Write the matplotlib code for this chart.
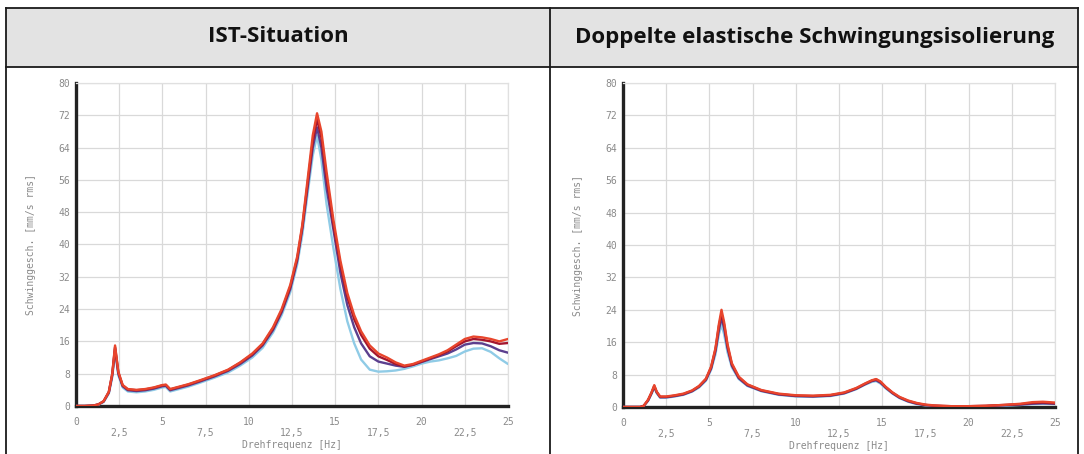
import numpy as np
import matplotlib
matplotlib.use("Agg")
import matplotlib.pyplot as plt
from matplotlib.patches import Rectangle
from matplotlib.lines import Line2D

# ---- data: IST-Situation ----
f_ist = [0, 0.5, 1.0, 1.3, 1.6, 1.9, 2.1, 2.26, 2.45, 2.7, 3.0, 3.5, 4.0, 4.5, 5.0, 5.2,
         5.45, 5.8, 6.5, 7.2, 8.0, 8.8, 9.5, 10.2, 10.8, 11.4, 11.9, 12.4, 12.8, 13.1,
         13.4, 13.7, 13.95, 14.2, 14.5, 14.9, 15.3, 15.7, 16.1, 16.5, 17.0, 17.5, 18.0,
         18.5, 19.0, 19.5, 20.0, 20.5, 21.0, 21.5, 22.0, 22.5, 23.0, 23.5, 24.0, 24.5, 25.0]
ist_red = [0, 0, 0.1, 0.4, 1.2, 3.5, 8.0, 15.0, 8.5, 5.2, 4.2, 4.0, 4.2, 4.6, 5.2, 5.3,
           4.2, 4.6, 5.4, 6.4, 7.6, 9.0, 10.8, 13.0, 15.5, 19.5, 24.0, 30.0, 37.0, 45.0,
           56.0, 67.0, 72.5, 68.0, 58.0, 46.0, 36.0, 28.0, 22.5, 18.5, 15.0, 13.0, 12.0,
           10.8, 10.0, 10.4, 11.2, 12.0, 12.8, 13.8, 15.2, 16.6, 17.2, 17.0, 16.6, 16.0, 16.6]
ist_darkred = [0, 0, 0.1, 0.4, 1.2, 3.5, 8.0, 14.6, 8.3, 5.1, 4.1, 3.9, 4.1, 4.5, 5.1, 5.2,
               4.1, 4.5, 5.3, 6.3, 7.5, 8.9, 10.7, 12.8, 15.3, 19.2, 23.6, 29.5, 36.5, 44.5,
               55.0, 65.5, 71.0, 66.5, 56.5, 44.8, 35.0, 27.0, 21.5, 17.6, 14.2, 12.3, 11.4,
               10.4, 9.8, 10.2, 11.0, 11.8, 12.6, 13.5, 14.8, 16.0, 16.6, 16.4, 16.0, 15.4, 15.6]
ist_purple = [0, 0, 0.1, 0.4, 1.1, 3.3, 7.6, 14.2, 8.0, 4.9, 3.9, 3.7, 3.9, 4.3, 4.9, 5.0,
              3.9, 4.3, 5.1, 6.1, 7.3, 8.7, 10.4, 12.5, 15.0, 18.8, 23.2, 29.0, 36.0, 44.0,
              54.0, 64.0, 69.0, 64.0, 54.0, 43.6, 33.0, 25.0, 19.5, 15.5, 12.3, 11.0, 10.5,
              10.0, 9.7, 10.2, 10.9, 11.6, 12.3, 13.0, 14.0, 15.2, 15.6, 15.5, 14.8, 13.8, 13.2]
ist_lightblue = [0, 0, 0.1, 0.3, 1.0, 3.1, 7.2, 13.6, 7.6, 4.6, 3.6, 3.4, 3.6, 4.0, 4.6, 4.7,
                 3.6, 4.0, 4.8, 5.8, 7.0, 8.3, 10.0, 12.0, 14.4, 18.2, 22.5, 28.2, 35.0, 42.5,
                 52.5, 62.0, 67.0, 61.0, 50.0, 39.0, 29.0, 21.0, 15.5, 11.5, 9.0, 8.5, 8.6,
                 8.8, 9.2, 9.8, 10.5, 11.0, 11.3, 11.8, 12.4, 13.5, 14.2, 14.3, 13.4, 11.8, 10.4]

# ---- data: Doppelte elastische Schwingungsisolierung ----
f_dop = [0, 0.5, 1.0, 1.2, 1.45, 1.65, 1.81, 1.95, 2.15, 2.5, 3.0, 3.5, 4.0, 4.4, 4.8, 5.1,
         5.35, 5.55, 5.7, 5.85, 6.05, 6.3, 6.7, 7.2, 8.0, 9.0, 10.0, 11.0, 12.0, 12.8, 13.5,
         14.0, 14.4, 14.65, 14.9, 15.2, 15.6, 16.0, 16.5, 17.0, 17.5, 18.0, 19.0, 20.0, 21.0,
         22.0, 23.0, 23.7, 24.3, 25.0]
dop_red = [0, 0, 0, 0.3, 1.8, 3.6, 5.4, 3.8, 2.6, 2.6, 2.9, 3.3, 4.1, 5.2, 7.0, 10.0,
           14.5, 20.5, 24.0, 21.0, 15.5, 10.8, 7.5, 5.6, 4.2, 3.3, 2.9, 2.8, 3.0, 3.6, 4.7,
           5.8, 6.6, 6.9, 6.3, 5.0, 3.6, 2.5, 1.6, 1.0, 0.6, 0.4, 0.2, 0.2, 0.3,
           0.5, 0.8, 1.2, 1.3, 1.1]
dop_darkred = [0, 0, 0, 0.3, 1.7, 3.5, 5.2, 3.7, 2.5, 2.5, 2.8, 3.2, 4.0, 5.1, 6.9, 9.8,
               14.2, 20.0, 23.0, 20.4, 15.0, 10.5, 7.3, 5.5, 4.1, 3.2, 2.8, 2.7, 2.9, 3.5, 4.6,
               5.7, 6.5, 6.8, 6.2, 4.9, 3.5, 2.4, 1.5, 0.9, 0.5, 0.3, 0.2, 0.2, 0.3,
               0.5, 0.7, 1.0, 1.1, 0.9]
dop_purple = [0, 0, 0, 0.3, 1.6, 3.4, 5.0, 3.6, 2.4, 2.4, 2.7, 3.1, 3.9, 5.0, 6.7, 9.5,
              13.8, 19.0, 22.0, 19.5, 14.5, 10.2, 7.1, 5.3, 4.0, 3.1, 2.7, 2.6, 2.8, 3.4, 4.5,
              5.6, 6.4, 6.6, 6.0, 4.8, 3.4, 2.3, 1.4, 0.8, 0.5, 0.3, 0.1, 0.1, 0.2,
              0.4, 0.6, 0.8, 0.9, 0.8]
dop_lightblue = [0, 0, 0, 0.2, 1.5, 3.2, 4.8, 3.4, 2.3, 2.3, 2.6, 3.0, 3.8, 4.8, 6.5, 9.2,
                 13.0, 18.0, 20.3, 18.0, 13.5, 9.8, 6.9, 5.2, 3.9, 3.0, 2.6, 2.5, 2.7, 3.3, 4.4,
                 5.5, 6.2, 6.4, 5.8, 4.6, 3.3, 2.2, 1.3, 0.7, 0.4, 0.2, 0.1, 0.1, 0.2,
                 0.3, 0.5, 0.7, 0.8, 0.7]

titles = ["IST-Situation", "Doppelte elastische Schwingungsisolierung"]
xticks = [0, 2.5, 5, 7.5, 10, 12.5, 15, 17.5, 20, 22.5, 25]
yticks = [0, 8, 16, 24, 32, 40, 48, 56, 64, 72, 80]

colors = ["#8fcbe6", "#5b3f8e", "#a3162e", "#e8452c"]

W, H = 1084, 454
fig = plt.figure(figsize=(W / 100, H / 100), dpi=100)


def fx(px):
    return px / W


def fy(py):
    return 1 - py / H


# table frame
fig.add_artist(Rectangle((fx(6), fy(67)), fx(1078) - fx(6), fy(8) - fy(67),
                         transform=fig.transFigure, facecolor="#e3e3e3",
                         edgecolor="none", zorder=0))
lk = dict(transform=fig.transFigure, color="#1a1a1a", lw=1.3, zorder=1)
fig.add_artist(Line2D([fx(6), fx(1078)], [fy(8), fy(8)], **lk))
fig.add_artist(Line2D([fx(6), fx(1078)], [fy(67), fy(67)], **lk))
fig.add_artist(Line2D([fx(6), fx(6)], [fy(8), 0], **lk))
fig.add_artist(Line2D([fx(550), fx(550)], [fy(8), 0], **lk))
fig.add_artist(Line2D([fx(1078), fx(1078)], [fy(8), 0], **lk))

fig.text(fx(278), fy(37), titles[0], ha="center", va="center",
         fontsize=16, fontweight="bold", family="Open Sans", color="#111")
fig.text(fx(815), fy(37), titles[1], ha="center", va="center",
         fontsize=16, fontweight="bold", family="Open Sans", color="#111")

mono = "DejaVu Sans Mono"
tick_col = "#8a8a8a"


def draw(ax, f, series):
    for s, c in zip(series, colors):
        ax.plot(f, s, color=c, lw=1.7, solid_capstyle="round", zorder=3)
    ax.set_xlim(0, 25)
    ax.set_ylim(0, 80)
    ax.set_yticks(yticks)
    ax.set_yticklabels([str(v) for v in yticks])
    ax.set_xticks([v for v in xticks if v % 5 == 0])
    ax.set_xticklabels([f"{v:g}" for v in xticks if v % 5 == 0])
    ax.set_xticks([v for v in xticks if v % 5 != 0], minor=True)
    ax.set_xticklabels([f"{v:g}".replace(".", ",") for v in xticks if v % 5 != 0], minor=True)
    ax.tick_params(axis="both", which="both", length=0, labelsize=7, labelcolor=tick_col)
    ax.tick_params(axis="x", which="major", pad=8)
    ax.tick_params(axis="x", which="minor", pad=16)
    ax.tick_params(axis="y", pad=4)
    for lab in ax.get_xticklabels(which="both") + ax.get_yticklabels():
        lab.set_family(mono)
    ax.grid(True, which="both", color="#d9d9d9", lw=0.9, zorder=0)
    ax.set_axisbelow(True)
    for side in ("left", "bottom"):
        ax.spines[side].set_linewidth(2.4)
        ax.spines[side].set_color("#222")
    for side in ("top", "right"):
        ax.spines[side].set_linewidth(0.9)
        ax.spines[side].set_color("#e0e0e0")
    ax.set_xlabel("Drehfrequenz [Hz]", fontsize=7, family=mono, color=tick_col, labelpad=1)
    ax.set_ylabel("Schwinggesch. [mm/s rms]", fontsize=7, family=mono, color=tick_col,
                  labelpad=16)


ax1 = fig.add_axes([fx(76), fy(406), fx(508) - fx(76), fy(83) - fy(406)])
draw(ax1, f_ist, [ist_lightblue, ist_purple, ist_darkred, ist_red])

ax2 = fig.add_axes([fx(623), fy(407), fx(1055) - fx(623), fy(83) - fy(407)])
draw(ax2, f_dop, [dop_lightblue, dop_purple, dop_darkred, dop_red])

fig.savefig("out.png", dpi=100)
